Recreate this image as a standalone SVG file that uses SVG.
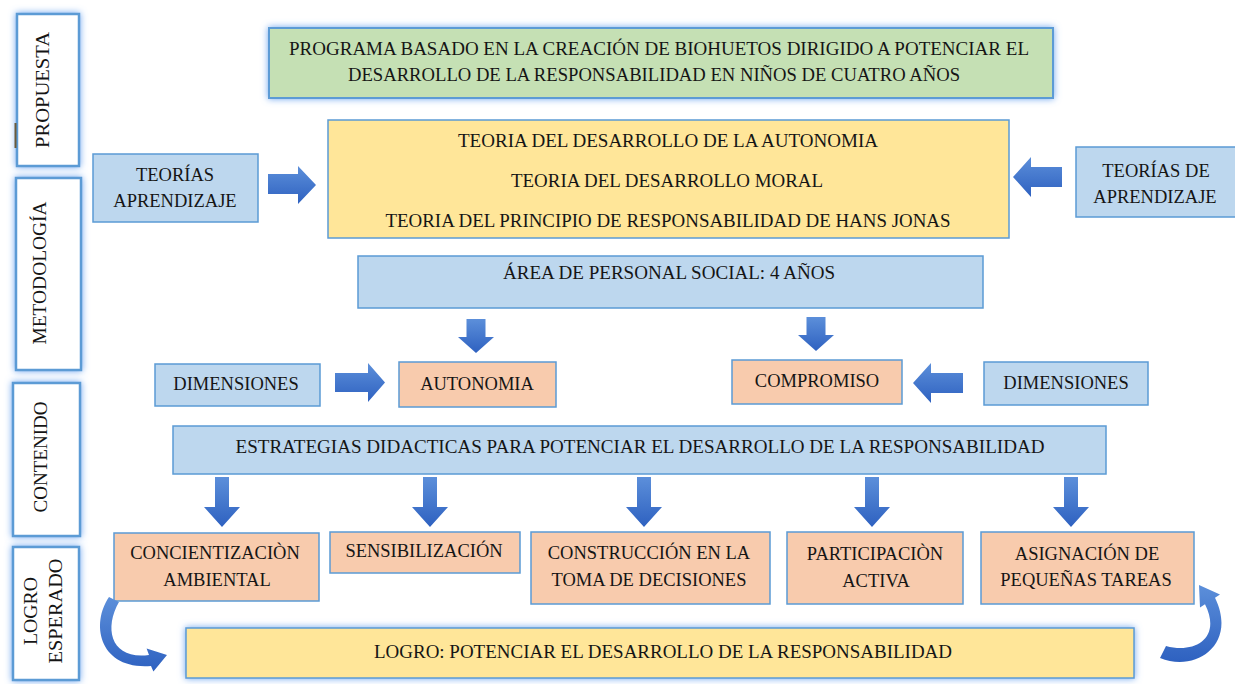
<svg xmlns="http://www.w3.org/2000/svg" width="1235" height="684" viewBox="0 0 1235 684">
<defs>
<style>
text{font-family:"Liberation Serif","DejaVu Serif",serif;font-size:18.5px;fill:#151515;text-anchor:middle}
.lab{fill:#ffffff;stroke:#5B9BD5;stroke-width:2.5}
.blue{fill:#BDD7EE;stroke:#5B9BD5;stroke-width:1.5}
.sal{fill:#F8CBAD;stroke:#5B9BD5;stroke-width:1.5}
.yel{fill:#FFE699;stroke:#5B9BD5;stroke-width:1.5}
.grn{fill:#C5E0B4;stroke:#5B9BD5;stroke-width:2}
.arr{fill:url(#ag)}
</style>
<linearGradient id="ag" x1="0" y1="0" x2="0" y2="1">
<stop offset="0" stop-color="#5C8FDA"/>
<stop offset="1" stop-color="#2E61C0"/>
</linearGradient>
<filter id="glow" x="-20%" y="-20%" width="140%" height="140%">
<feGaussianBlur in="SourceAlpha" stdDeviation="3.5" result="b"/>
<feFlood flood-color="#6FA6F0" flood-opacity="1"/>
<feComposite in2="b" operator="in" result="g"/>
<feMerge><feMergeNode in="g"/><feMergeNode in="SourceGraphic"/></feMerge>
</filter>
</defs>
<rect width="1235" height="684" fill="#ffffff"/>

<g id="propuesta">
<rect class="lab" x="17" y="14" width="62" height="152" filter="url(#glow)"/>
<text transform="translate(49,90) rotate(-90)" textLength="116" lengthAdjust="spacingAndGlyphs">PROPUESTA</text>
<line x1="15.5" y1="123" x2="15.5" y2="148" stroke="#6B5A3A" stroke-width="2"/>
</g>
<g id="metodologia">
<rect class="lab" x="16" y="178" width="65" height="192" filter="url(#glow)"/>
<text transform="translate(46,273) rotate(-90)" textLength="143" lengthAdjust="spacingAndGlyphs">METODOLOGÍA</text>
</g>
<g id="contenido">
<rect class="lab" x="13" y="383" width="67" height="153" filter="url(#glow)"/>
<text transform="translate(47,457) rotate(-90)" textLength="111" lengthAdjust="spacingAndGlyphs">CONTENIDO</text>
</g>
<g id="logro-esperado">
<rect class="lab" x="13" y="547" width="66" height="133" filter="url(#glow)"/>
<text transform="translate(37,611) rotate(-90)" textLength="68" lengthAdjust="spacingAndGlyphs">LOGRO</text>
<text transform="translate(62,611) rotate(-90)" textLength="105" lengthAdjust="spacingAndGlyphs">ESPERADO</text>
</g>

<g id="programa">
<rect class="grn" x="269" y="28" width="784" height="70" filter="url(#glow)"/>
<text x="659" y="55" textLength="740" lengthAdjust="spacingAndGlyphs">PROGRAMA BASADO EN LA CREACIÓN DE BIOHUETOS DIRIGIDO A POTENCIAR EL</text>
<text x="654" y="81" textLength="612" lengthAdjust="spacingAndGlyphs">DESARROLLO DE LA RESPONSABILIDAD EN NIÑOS DE CUATRO AÑOS</text>
</g>

<g id="teorias">
<rect class="yel" x="328" y="120" width="681" height="118"/>
<text x="668" y="147" textLength="420" lengthAdjust="spacingAndGlyphs">TEORIA DEL DESARROLLO DE LA AUTONOMIA</text>
<text x="667" y="187" textLength="312" lengthAdjust="spacingAndGlyphs">TEORIA DEL DESARROLLO MORAL</text>
<text x="668" y="227" textLength="565" lengthAdjust="spacingAndGlyphs">TEORIA DEL PRINCIPIO DE RESPONSABILIDAD DE HANS JONAS</text>
</g>

<g id="teorias-aprendizaje-izq">
<rect class="blue" x="93" y="154" width="165" height="68"/>
<text x="175" y="181">TEORÍAS</text>
<text x="175" y="207">APRENDIZAJE</text>
</g>

<g id="teorias-aprendizaje-der">
<rect class="blue" x="1076" y="147" width="160" height="70"/>
<text x="1156" y="177">TEORÍAS DE</text>
<text x="1155" y="203">APRENDIZAJE</text>
</g>

<g id="area">
<rect class="blue" x="358" y="256" width="625" height="52"/>
<text x="669" y="279" textLength="332" lengthAdjust="spacingAndGlyphs">ÁREA DE PERSONAL SOCIAL: 4 AÑOS</text>
</g>

<g id="dimensiones-izq">
<rect class="blue" x="155" y="364" width="165" height="42"/>
<text x="236" y="390">DIMENSIONES</text>
</g>
<g id="autonomia">
<rect class="sal" x="399" y="362" width="157" height="45"/>
<text x="477" y="390">AUTONOMIA</text>
</g>
<g id="compromiso">
<rect class="sal" x="732" y="360" width="170" height="44"/>
<text x="817" y="387">COMPROMISO</text>
</g>
<g id="dimensiones-der">
<rect class="blue" x="984" y="362" width="164" height="43"/>
<text x="1066" y="389">DIMENSIONES</text>
</g>

<g id="estrategias">
<rect class="blue" x="173" y="426" width="933" height="48"/>
<text x="640" y="453" textLength="809" lengthAdjust="spacingAndGlyphs">ESTRATEGIAS DIDACTICAS PARA POTENCIAR EL DESARROLLO DE LA RESPONSABILIDAD</text>
</g>

<g id="concientizacion">
<rect class="sal" x="114" y="533" width="205" height="68"/>
<text x="215" y="559">CONCIENTIZACIÒN</text>
<text x="217" y="586">AMBIENTAL</text>
</g>
<g id="sensibilizacion">
<rect class="sal" x="330" y="532" width="190" height="41"/>
<text x="424" y="557">SENSIBILIZACIÓN</text>
</g>
<g id="construccion">
<rect class="sal" x="531" y="532" width="239" height="72"/>
<text x="649" y="559">CONSTRUCCIÓN EN LA</text>
<text x="649" y="586">TOMA DE DECISIONES</text>
</g>
<g id="participacion">
<rect class="sal" x="787" y="532" width="176" height="72"/>
<text x="875" y="560">PARTICIPACIÒN</text>
<text x="876" y="587">ACTIVA</text>
</g>
<g id="asignacion">
<rect class="sal" x="981" y="532" width="213" height="72"/>
<text x="1087" y="560">ASIGNACIÓN DE</text>
<text x="1086" y="586">PEQUEÑAS TAREAS</text>
</g>

<g id="logro">
<rect class="yel" x="186" y="628" width="948" height="50" filter="url(#glow)"/>
<text x="663" y="658" textLength="578" lengthAdjust="spacingAndGlyphs">LOGRO: POTENCIAR EL DESARROLLO DE LA RESPONSABILIDAD</text>
</g>

<g id="connectors">
<path class="arr" d="M268,174 H298 V166 L316,185 L298,204 V194 H268 Z"/>
<path class="arr" d="M1062,167 H1031 V157 L1013,177 L1031,197 V187 H1062 Z"/>
<path class="arr" d="M466.5,319 H485.5 V337 H494 L476,353 L458,337 H466.5 Z"/>
<path class="arr" d="M806.5,317 H825.5 V335 H834 L816,351 L798,335 H806.5 Z"/>
<path class="arr" d="M335,373 H368 V363 L385,382.5 L368,402 V392 H335 Z"/>
<path class="arr" d="M963,373 H931 V363 L913,383 L931,403 V393 H963 Z"/>
<path class="arr" d="M215,477 H229 V507 H240 L222,527 L204,507 H215 Z"/>
<path class="arr" d="M423,477 H437 V507 H448 L430,527 L412,507 H423 Z"/>
<path class="arr" d="M637,477 H651 V507 H662 L644,527 L626,507 H637 Z"/>
<path class="arr" d="M865,477 H879 V507 H890 L872,527 L854,507 H865 Z"/>
<path class="arr" d="M1064,477 H1078 V507 H1089 L1071,527 L1053,507 H1064 Z"/>
<path class="arr" d="M109,597 C90,625 100,670 151,666 L153.4,671.5 L167,655 L146.6,648.5 L149,655 C112,660 103,630 119,602 Z"/>
<path class="arr" d="M1160,658 C1195,673 1238,645 1215,597.7 L1220,594.4 L1199,585 L1200,607.6 L1205,604.3 C1222,638 1195,654 1166,646 Z"/>
</g>
</svg>
